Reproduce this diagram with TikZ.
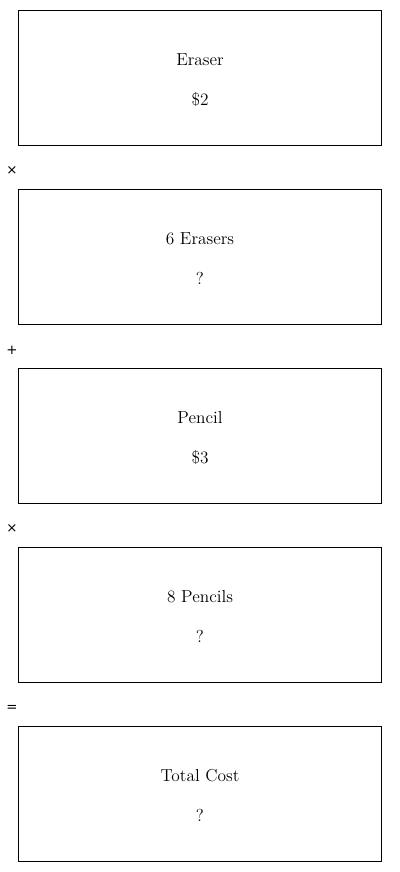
\documentclass[tikz,border=0pt]{standalone}
\usepackage{fontspec}
\newfontfamily\opfont{DejaVu Sans}
\begin{document}
\begin{tikzpicture}[x=0.75pt,y=-0.75pt,
  box/.style={draw=black,line width=0.75pt,minimum width=363*0.75pt,minimum height=135*0.75pt,inner sep=0pt,anchor=north west},
  lbl/.style={font=\fontsize{13}{15}\selectfont,anchor=center},
  op/.style={font=\opfont\fontsize{10}{12}\selectfont,anchor=center}]
\useasboundingbox (0,0) rectangle (400,872);
\foreach \i/\a/\b in {0/Eraser/\$2,1/6 Erasers/?,2/Pencil/\$3,3/8 Pencils/?,4/Total Cost/?}{
  \node[box] (b\i) at (17.5,{9.5+179*\i}) {};
  \node[lbl] (t\i) at (200,{60+179*\i}) {\a};
  \node[lbl] (v\i) at (200,{99+179*\i}) {\b};
}
\node[op] (o1) at (12,171) {×};
\node[op] (o2) at (12,350) {+};
\node[op] (o3) at (12,529) {×};
\node[op] (o4) at (12,708) {=};
\end{tikzpicture}
\end{document}
